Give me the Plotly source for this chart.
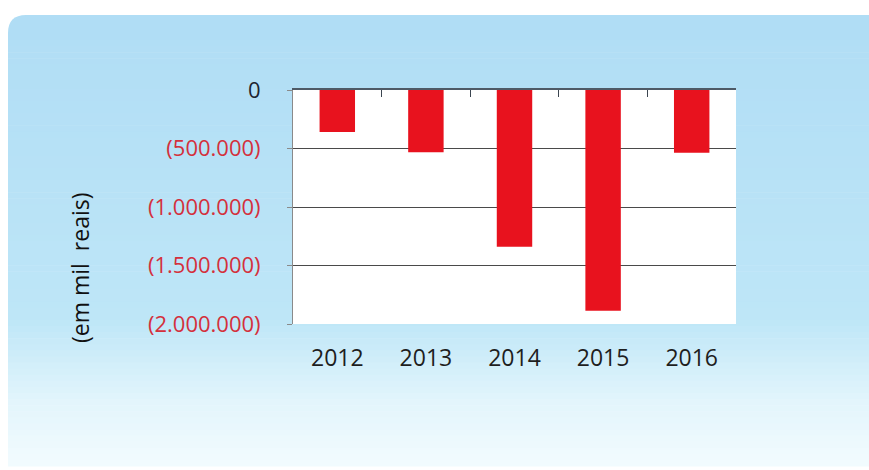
import plotly.graph_objects as go

# ---- data ----
years = ["2012", "2013", "2014", "2015", "2016"]
values = [-360000, -532000, -1339000, -1886000, -536000]
ytick_vals = [0, -500000, -1000000, -1500000, -2000000]
ytick_text = ["<span style='color:#1e2530'>0</span>", "(500.000)", "(1.000.000)", "(1.500.000)", "(2.000.000)"]
y_title = "(em mil  reais)"

W, H = 869, 470
L, R, T, B = 293, 736, 90, 324  # plot area pixel box

def px(x):
    return (x - L) / (R - L)

def py(y):
    return (B - y) / (B - T)

def lerp(c1, c2, t):
    return tuple(round(a + (b - a) * t) for a, b in zip(c1, c2))

stops = [(15, (176, 221, 245)), (320, (190, 230, 247)), (400, (226, 245, 252)), (465, (242, 251, 254))]

def color_at(y):
    for (y1, c1), (y2, c2) in zip(stops, stops[1:]):
        if y <= y2:
            t = (y - y1) / (y2 - y1)
            return lerp(c1, c2, max(0, min(1, t)))
    return stops[-1][1]

shapes = []
r = 18
x0, x1 = 8, 875
top, band_end = 15, 40
c = color_at(25)
path = (f"M {px(x0)},{py(band_end)} L {px(x0)},{py(top + r)} "
        f"Q {px(x0)},{py(top)} {px(x0 + r)},{py(top)} L {px(x1)},{py(top)} L {px(x1)},{py(band_end)} Z")
shapes.append(dict(type="path", xref="paper", yref="paper", path=path,
                   fillcolor=f"rgb{c}", line=dict(width=0), layer="below"))
n = 70
y_start, y_stop = band_end, 466
step = (y_stop - y_start) / n
for i in range(n):
    ya = y_start + i * step
    yb = ya + step + 0.6
    c = color_at(ya + step / 2)
    shapes.append(dict(type="rect", xref="paper", yref="paper",
                       x0=px(x0), x1=px(x1), y0=py(yb), y1=py(ya),
                       fillcolor=f"rgb{c}", line=dict(width=0), layer="below"))
shapes.append(dict(type="rect", xref="paper", yref="paper", x0=0, x1=1, y0=0, y1=1,
                   fillcolor="white", line=dict(width=0), layer="below"))

fig = go.Figure()
fig.add_trace(go.Bar(x=years, y=values, marker=dict(color="#e8121e", line=dict(width=0)),
                     hoverinfo="skip"))

FONT = "Open Sans"
fig.update_layout(
    width=W, height=H,
    margin=dict(l=L, r=W - R, t=T, b=H - B, pad=0),
    paper_bgcolor="white",
    plot_bgcolor="rgba(0,0,0,0)",
    showlegend=False,
    bargap=0.6,
    shapes=shapes,
    font=dict(family=FONT),
    xaxis=dict(type="category", showline=False, ticks="", showgrid=False,
               tickfont=dict(family=FONT, size=23, color="#1e1e1e"),
               ticklabelstandoff=18, range=[-0.5, 4.5]),
    xaxis2=dict(overlaying="x", side="top", anchor="y", range=[-0.5, 4.5],
                tickmode="array", tickvals=[-0.5, 0.5, 1.5, 2.5, 3.5, 4.5],
                ticktext=[""] * 6, showticklabels=False, ticks="inside", ticklen=7,
                tickcolor="#3c4650", tickwidth=1, showline=True, linecolor="#4e5a66",
                linewidth=2, showgrid=False, zeroline=False),
    yaxis=dict(range=[-2000000, 0], tickmode="array", tickvals=ytick_vals, ticktext=ytick_text,
               tickfont=dict(family=FONT, size=22, color="#d4303c"),
               showgrid=True, gridcolor="#4a4a4a", gridwidth=1,
               zeroline=False, showline=True, linecolor="#8a8a8a", linewidth=1,
               ticks="outside", ticklen=5, tickcolor="#8a8a8a", ticklabelstandoff=22),
    annotations=[dict(text=y_title, xref="paper", yref="paper", x=px(80), y=py(268),
                      textangle=-90, showarrow=False, xanchor="center", yanchor="middle",
                      font=dict(family=FONT, size=23, color="#111111"))],
)
fig.add_trace(go.Scatter(x=[-0.5, 4.5], y=[0, 0], xaxis="x2", mode="lines",
                         line=dict(width=0), hoverinfo="skip", showlegend=False))

fig.write_html("out.html", config={"displayModeBar": False},
               post_script="document.body.style.margin='0px';")
